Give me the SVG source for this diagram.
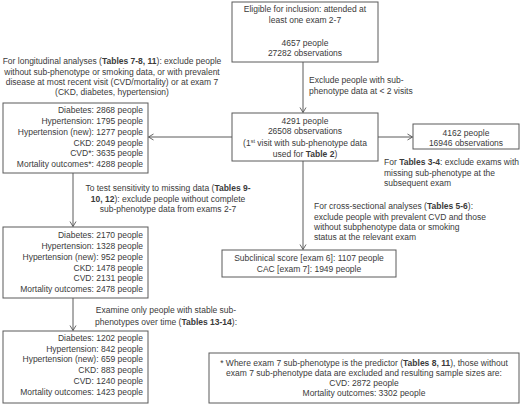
<svg xmlns="http://www.w3.org/2000/svg" width="520" height="405" viewBox="0 0 520 405">
<defs>
<marker id="arr" markerWidth="8" markerHeight="8" refX="6" refY="4" orient="auto" markerUnits="userSpaceOnUse">
<polyline points="1,1 6,4 1,7" fill="none" stroke="#555" stroke-width="0.9"/>
</marker>
<style>
text{font-family:"Liberation Sans",Arial,sans-serif;font-size:8.5px;fill:#3a3a3a}
.c{text-anchor:middle}
.r{text-anchor:end}
.b{font-weight:bold}
rect{fill:#fff;stroke:#5a5a5a;stroke-width:1}
.ln{stroke:#5a5a5a;stroke-width:1;fill:none}
</style>
</defs>
<rect x="0" y="0" width="520" height="405" style="stroke:none;fill:#fff"/>
<g id="connectors">
<line class="ln" x1="303" y1="62" x2="303" y2="112.5" marker-end="url(#arr)"/>
<line class="ln" x1="378" y1="137" x2="412.5" y2="137" marker-end="url(#arr)"/>
<line class="ln" x1="232" y1="137" x2="148.5" y2="137" marker-end="url(#arr)"/>
<line class="ln" x1="303" y1="161" x2="303" y2="249.5" marker-end="url(#arr)"/>
<line class="ln" x1="73" y1="173" x2="73" y2="226.5" marker-end="url(#arr)"/>
<line class="ln" x1="73" y1="298" x2="73" y2="330.5" marker-end="url(#arr)"/>
</g>
<g id="eligible">
<rect x="232" y="2" width="146" height="60"/>
<text class="c" x="305" y="12">Eligible for inclusion: attended at</text>
<text class="c" x="305" y="23">least one exam 2-7</text>
<text class="c" x="305" y="46">4657 people</text>
<text class="c" x="305" y="56">27282 observations</text>
</g>
<g id="exclude-label">
<text x="309" y="83">Exclude people with sub-</text>
<text x="309" y="94">phenotype data at &lt; 2 visits</text>
</g>
<g id="main">
<rect x="232" y="113" width="146" height="48"/>
<text class="c" x="305" y="124">4291 people</text>
<text class="c" x="305" y="134">26508 observations</text>
<text class="c" x="305" y="146">(1<tspan font-size="5.5" dy="-3">st</tspan><tspan dy="3"> visit with sub-phenotype data</tspan></text>
<text class="c" x="305" y="157">used for <tspan class="b">Table 2</tspan>)</text>
</g>
<g id="tables34">
<rect x="413" y="124" width="106" height="25"/>
<text class="c" x="466" y="136">4162 people</text>
<text class="c" x="466" y="146">16946 observations</text>
<text x="384" y="165">For <tspan class="b">Tables 3-4</tspan>: exclude exams with</text>
<text x="384" y="175.5">missing sub-phenotype at the</text>
<text x="384" y="186">subsequent exam</text>
</g>
<g id="longitudinal">
<text class="c" x="112" y="64">For longitudinal analyses (<tspan class="b">Tables 7-8, 11</tspan>): exclude people</text>
<text class="c" x="112" y="75">without  sub-phenotype or smoking data, or with prevalent</text>
<text class="c" x="112" y="85">disease at most recent visit (CVD/mortality) or at exam 7</text>
<text class="c" x="112" y="95">(CKD, diabetes, hypertension)</text>
<rect x="3" y="103" width="145" height="70"/>
<text class="r" x="143" y="113">Diabetes: 2868 people</text>
<text class="r" x="143" y="124">Hypertension: 1795 people</text>
<text class="r" x="143" y="135">Hypertension (new): 1277 people</text>
<text class="r" x="143" y="145.5">CKD: 2049 people</text>
<text class="r" x="143" y="156">CVD*: 3635 people</text>
<text class="r" x="143" y="167">Mortality outcomes*: 4288 people</text>
</g>
<g id="sensitivity">
<text class="c" x="168" y="191">To test sensitivity to missing data (<tspan class="b">Tables 9-</tspan></text>
<text class="c" x="168" y="202"><tspan class="b">10, 12</tspan>): exclude people without complete</text>
<text class="c" x="168" y="212">sub-phenotype data from exams 2-7</text>
<rect x="3" y="227" width="145" height="71"/>
<text class="r" x="143" y="238">Diabetes: 2170 people</text>
<text class="r" x="143" y="249">Hypertension: 1328 people</text>
<text class="r" x="143" y="260">Hypertension (new): 952 people</text>
<text class="r" x="143" y="270.5">CKD: 1478 people</text>
<text class="r" x="143" y="281">CVD: 2131 people</text>
<text class="r" x="143" y="291.5">Mortality outcomes: 2478 people</text>
</g>
<g id="stable">
<text class="c" x="166" y="313">Examine only people with stable sub-</text>
<text class="c" x="166" y="325">phenotypes over time (<tspan class="b">Tables 13-14</tspan>):</text>
<rect x="3" y="331" width="145" height="72"/>
<text class="r" x="143" y="341">Diabetes: 1202 people</text>
<text class="r" x="143" y="351.5">Hypertension: 842 people</text>
<text class="r" x="143" y="362">Hypertension (new): 659 people</text>
<text class="r" x="143" y="373">CKD: 883 people</text>
<text class="r" x="143" y="384">CVD: 1240 people</text>
<text class="r" x="143" y="395">Mortality outcomes: 1423 people</text>
</g>
<g id="cross-sectional">
<text x="314" y="209">For cross-sectional analyses (<tspan class="b">Tables 5-6</tspan>):</text>
<text x="314" y="220">exclude people  with prevalent CVD and those</text>
<text x="314" y="230">without  subphenotype data or smoking</text>
<text x="314" y="240">status at the relevant exam</text>
<rect x="222" y="250" width="174" height="27"/>
<text class="c" x="309" y="261">Subclinical score [exam 6]: 1107 people</text>
<text class="c" x="309" y="272">CAC [exam 7]: 1949 people</text>
</g>
<g id="footnote">
<rect x="209" y="353" width="310" height="50"/>
<text class="c" x="364" y="366">* Where exam 7 sub-phenotype is the predictor  (<tspan class="b">Tables 8, 11</tspan>), those without</text>
<text class="c" x="364" y="376">exam 7 sub-phenotype  data are excluded and resulting sample sizes are:</text>
<text class="c" x="364" y="386">CVD: 2872 people</text>
<text class="c" x="364" y="396">Mortality outcomes: 3302 people</text>
</g>
</svg>
